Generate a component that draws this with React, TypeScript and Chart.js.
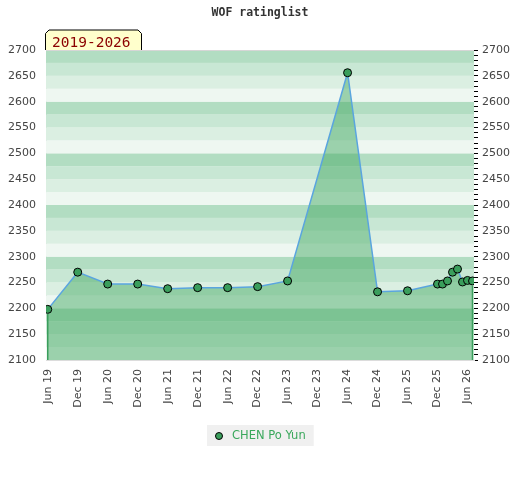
import React, { useEffect, useRef } from "react";
import { Chart, registerables } from "chart.js";

Chart.register(...registerables);

// ---- data ----
const chartTitle = "WOF ratinglist";
const periodTag = "2019-2026";
const playerName = "CHEN Po Yun";
const ratingDates = [
  "2019-06", "2019-12", "2020-06", "2020-12", "2021-06", "2021-12",
  "2022-06", "2022-12", "2023-06", "2024-06", "2024-12", "2025-06",
  "2025-12", "2026-01", "2026-02", "2026-03", "2026-04", "2026-05",
  "2026-06", "2026-07",
];
const ratings = [
  2198, 2270, 2247, 2247, 2238, 2240,
  2240, 2242, 2253, 2656, 2232, 2234,
  2247, 2247, 2253, 2270, 2276, 2251,
  2254, 2253,
];
const xTickLabels = [
  "Jun 19", "Dec 19", "Jun 20", "Dec 20", "Jun 21", "Dec 21", "Jun 22",
  "Dec 22", "Jun 23", "Dec 23", "Jun 24", "Dec 24", "Jun 25", "Dec 25", "Jun 26",
];
const yMin = 2100;
const yMax = 2700;

const MONTHS = ["Jan", "Feb", "Mar", "Apr", "May", "Jun", "Jul", "Aug", "Sep", "Oct", "Nov", "Dec"];
const BASE_YEAR = 2019;
const BASE_MONTH = 6;
const monthIndexFromIso = (s: string) => {
  const [y, m] = s.split("-").map(Number);
  return (y - BASE_YEAR) * 12 + (m - BASE_MONTH);
};
const monthIndexFromLabel = (s: string) => {
  const [mn, yy] = s.split(" ");
  return (2000 + Number(yy) - BASE_YEAR) * 12 + (MONTHS.indexOf(mn) + 1 - BASE_MONTH);
};

const bandColors = ["#eef7f1", "#dbefe2", "#c8e7d4", "#b2ddc2"]; // by 25-pt band within each 100
const pointColor = "#3a9e5c";

const bandsPlugin = {
  id: "bands",
  beforeDatasetsDraw(chart: any) {
    const { ctx, chartArea, scales } = chart;
    const y = scales.y;
    ctx.save();
    for (let v = yMin; v < yMax; v += 25) {
      const idx = ((v % 100) / 25) | 0;
      const top = y.getPixelForValue(v + 25);
      const bot = y.getPixelForValue(v);
      ctx.fillStyle = bandColors[idx];
      ctx.fillRect(chartArea.left, top, chartArea.right - chartArea.left, bot - top);
    }
    ctx.strokeStyle = "#d6d6d6";
    ctx.lineWidth = 1;
    ctx.beginPath();
    ctx.moveTo(chartArea.left, chartArea.top + 0.5);
    ctx.lineTo(chartArea.right, chartArea.top + 0.5);
    ctx.stroke();
    ctx.restore();
  },
  afterDatasetsDraw(chart: any) {
    const { ctx, chartArea } = chart;
    const meta = chart.getDatasetMeta(0);
    const pts = meta.data;
    if (!pts.length) return;
    ctx.save();
    ctx.strokeStyle = pointColor;
    ctx.lineWidth = 1.5;
    [pts[0], pts[pts.length - 1]].forEach((p: any) => {
      ctx.beginPath();
      ctx.moveTo(p.x, p.y + 4.5);
      ctx.lineTo(p.x, chartArea.bottom);
      ctx.stroke();
    });
    ctx.restore();
  },
  afterDraw(chart: any) {
    const { ctx, chartArea, width } = chart;
    ctx.save();
    // title
    ctx.font = "bold 11.5px 'DejaVu Sans Mono'";
    ctx.fillStyle = "#333";
    ctx.textAlign = "center";
    ctx.textBaseline = "middle";
    ctx.fillText(chartTitle, width / 2, 13.5);

    // tag box
    const l = chartArea.left - 0.5;
    const b = chartArea.top;
    const t = b - 20;
    const r = l + 96;
    ctx.beginPath();
    ctx.moveTo(l, b);
    ctx.lineTo(l, t + 3.5);
    ctx.lineTo(l + 3.5, t);
    ctx.lineTo(r - 3.5, t);
    ctx.lineTo(r, t + 3.5);
    ctx.lineTo(r, b);
    ctx.fillStyle = "#ffffcc";
    ctx.fill();
    ctx.strokeStyle = "#000";
    ctx.lineWidth = 1;
    ctx.stroke();
    ctx.font = "14.5px 'DejaVu Sans Mono'";
    ctx.fillStyle = "#8b0000";
    ctx.textAlign = "left";
    ctx.textBaseline = "alphabetic";
    ctx.fillText(periodTag, l + 6.5, b - 3.5);

    // legend
    ctx.font = "11.5px 'DejaVu Sans'";
    const tw = ctx.measureText(playerName).width;
    const bw = tw + 33;
    const bx = Math.round(width / 2 - bw / 2);
    const by = chartArea.bottom + 65;
    ctx.fillStyle = "#f0f0f0";
    ctx.fillRect(bx, by, bw, 21);
    ctx.beginPath();
    ctx.arc(bx + 12, by + 11, 3.5, 0, Math.PI * 2);
    ctx.fillStyle = pointColor;
    ctx.fill();
    ctx.strokeStyle = "#000";
    ctx.lineWidth = 1;
    ctx.stroke();
    ctx.fillStyle = "#3aa85c";
    ctx.textBaseline = "middle";
    ctx.fillText(playerName, bx + 25, by + 11);
    ctx.restore();
  },
};

export default function App() {
  const ref = useRef<HTMLCanvasElement>(null);
  useEffect(() => {
    if (!ref.current) return;
    Chart.defaults.font.family = "'DejaVu Sans'";
    Chart.defaults.font.size = 11;
    Chart.defaults.color = "#444";
    const data = ratingDates.map((d, i) => ({ x: monthIndexFromIso(d), y: ratings[i] }));
    const tickVals = xTickLabels.map(monthIndexFromLabel);
    const labelMap = new Map<number, string>();
    xTickLabels.forEach((s, i) => labelMap.set(tickVals[i], s));
    const chart = new Chart(ref.current, {
      type: "line",
      data: {
        datasets: [
          {
            label: playerName,
            data,
            borderColor: "#5aa5df",
            borderWidth: 1.5,
            backgroundColor: "rgba(64,168,96,0.48)",
            fill: "start",
            tension: 0,
            pointRadius: 4,
            pointBackgroundColor: pointColor,
            pointBorderColor: "#000",
            pointBorderWidth: 1,
          },
        ],
      },
      options: {
        responsive: false,
        animation: false,
        layout: { padding: { top: 50, left: 0, right: 0, bottom: 0 } },
        plugins: { legend: { display: false }, title: { display: false }, tooltip: { enabled: false } },
        scales: {
          x: {
            type: "linear",
            min: -0.35,
            max: 85.3,
            grid: { display: false, drawTicks: false },
            border: { display: true, color: "#dcdcdc" },
            afterBuildTicks: (scale: any) => {
              scale.ticks = tickVals.map((v) => ({ value: v }));
            },
            afterFit: (scale: any) => {
              scale.height = 120;
            },
            ticks: {
              autoSkip: false,
              minRotation: 90,
              maxRotation: 90,
              padding: 9,
              color: "#444",
              callback: (v: any) => labelMap.get(Number(v)) ?? "",
            },
          },
          y: {
            position: "left",
            min: yMin,
            max: yMax,
            grid: { display: false, drawTicks: false },
            border: { display: true, color: "#dcdcdc" },
            afterFit: (scale: any) => {
              scale.width = 46;
            },
            ticks: { stepSize: 50, padding: 10, color: "#444", callback: (v: any) => String(v) },
          },
          y2: {
            position: "right",
            min: yMin,
            max: yMax,
            grid: { display: true, drawOnChartArea: false, drawTicks: true, tickLength: 4, color: "#000" },
            border: { display: false },
            afterFit: (scale: any) => {
              scale.width = 46;
            },
            ticks: {
              stepSize: 10,
              autoSkip: false,
              padding: 4,
              color: "#444",
              callback: (v: any) => (Number(v) % 50 === 0 ? String(v) : ""),
            },
          },
        },
      },
      plugins: [bandsPlugin],
    });
    return () => chart.destroy();
  }, []);
  return (
    <div style={{ position: "fixed", left: 0, top: 0, width: 520, height: 480, background: "#fff" }}>
      <canvas ref={ref} width={520} height={480} />
    </div>
  );
}
